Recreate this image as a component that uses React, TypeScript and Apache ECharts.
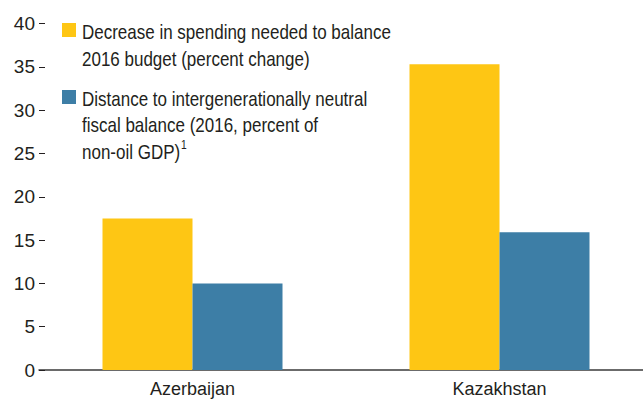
import React, { useEffect, useRef } from "react";
import * as echarts from "echarts";

const categories = ["Azerbaijan", "Kazakhstan"];
const spendingDecrease = [17.5, 35.3];
const distanceNeutral = [10.0, 15.9];
const legendLabels = [
  "Decrease in spending needed to balance\n2016 budget (percent change)",
  "Distance to intergenerationally neutral\nfiscal balance (2016, percent of\nnon-oil GDP){sup|1}",
];
const seriesNames = [
  "Decrease in spending needed to balance 2016 budget (percent change)",
  "Distance to intergenerationally neutral fiscal balance (2016, percent of non-oil GDP)",
];
const yTicks = [0, 5, 10, 15, 20, 25, 30, 35, 40];

const YELLOW = "#FEC614";
const BLUE = "#3D7EA6";
const TEXT = "#231F20";
const FONT = "'Liberation Sans', Arial, sans-serif";

export default function App() {
  const ref = useRef<HTMLDivElement>(null);
  useEffect(() => {
    document.body.style.margin = "0";
    const chart = echarts.init(ref.current!, null, { renderer: "svg" });
    chart.setOption({
      animation: false,
      textStyle: { fontFamily: FONT },
      grid: {
        left: 39,
        top: 23.5,
        bottom: 32,
        width: 614,
        containLabel: false,
        outerBoundsMode: "none",
      },
      xAxis: {
        type: "category",
        data: categories,
        axisLine: { show: true, lineStyle: { color: "#3a3a3a", width: 1.5 } },
        axisTick: { show: false },
        axisLabel: { fontSize: 18, color: TEXT, margin: 10, fontFamily: FONT },
      },
      yAxis: {
        type: "value",
        min: yTicks[0],
        max: yTicks[yTicks.length - 1],
        interval: 5,
        axisLine: { show: false },
        axisTick: { show: true, inside: true, length: 6, lineStyle: { color: TEXT, width: 1 } },
        splitLine: { show: false },
        axisLabel: { fontSize: 19, color: TEXT, margin: 4, fontFamily: FONT },
      },
      series: [
        {
          name: seriesNames[0],
          type: "bar",
          data: spendingDecrease,
          barWidth: 90,
          barGap: "0%",
          itemStyle: { color: YELLOW },
        },
        {
          name: seriesNames[1],
          type: "bar",
          data: distanceNeutral,
          barWidth: 90,
          barGap: "0%",
          itemStyle: { color: BLUE },
        },
      ],
      graphic: [
        { type: "rect", shape: { x: 62, y: 23, width: 14, height: 14 }, style: { fill: YELLOW } },
        {
          type: "text",
          x: 82,
          y: 19,
          scaleX: 0.85,
          style: {
            text: legendLabels[0],
            font: `20px ${FONT}`,
            fill: TEXT,
            lineHeight: 26.5,
            verticalAlign: "top",
          },
        },
        { type: "rect", shape: { x: 62, y: 90, width: 14, height: 14 }, style: { fill: BLUE } },
        {
          type: "text",
          x: 82,
          y: 85.5,
          scaleX: 0.85,
          style: {
            text: legendLabels[1],
            font: `20px ${FONT}`,
            fontSize: 20,
            fontFamily: FONT,
            fill: TEXT,
            lineHeight: 26.5,
            verticalAlign: "top",
            rich: {
              sup: {
                fontSize: 12,
                fontFamily: FONT,
                fill: TEXT,
                lineHeight: 18,
                verticalAlign: "top",
                padding: [0, 0, 0, 1],
              },
            },
          },
        },
      ],
    });
    return () => chart.dispose();
  }, []);
  return <div ref={ref} style={{ width: 643, height: 402 }} />;
}
